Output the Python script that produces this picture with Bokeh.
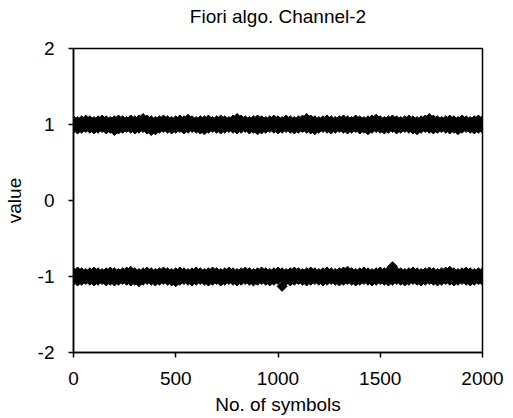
import numpy as np
from bokeh.plotting import figure
from bokeh.models import FixedTicker, Range1d, Title
from bokeh.embed import file_html
from bokeh.resources import INLINE

# symbol index of the plotted samples (every 20th symbol)
symbols = list(range(0, 2001, 20))

# upper band (+1 symbols): upper edge, middle and lower edge of the scatter
top_hi = [1.05, 1.04, 1.05, 1.06, 1.05, 1.04, 1.05, 1.06, 1.05, 1.04,
          1.05, 1.06, 1.05, 1.04, 1.06, 1.05, 1.06, 1.08, 1.06, 1.05,
          1.04, 1.05, 1.06, 1.05, 1.04, 1.05, 1.06, 1.05, 1.07, 1.05,
          1.04, 1.05, 1.05, 1.06, 1.04, 1.05, 1.06, 1.05, 1.04, 1.06,
          1.08, 1.06, 1.05, 1.04, 1.05, 1.06, 1.05, 1.04, 1.05, 1.06,
          1.05, 1.04, 1.06, 1.05, 1.04, 1.05, 1.06, 1.08, 1.06, 1.05,
          1.04, 1.05, 1.06, 1.05, 1.04, 1.05, 1.06, 1.05, 1.04, 1.06,
          1.05, 1.04, 1.05, 1.06, 1.07, 1.05, 1.04, 1.05, 1.06, 1.05,
          1.04, 1.05, 1.06, 1.05, 1.04, 1.05, 1.06, 1.08, 1.06, 1.05,
          1.04, 1.05, 1.06, 1.05, 1.04, 1.06, 1.05, 1.04, 1.05, 1.06,
          1.05]
top_mid = [1.00, 1.01, 0.99, 1.00, 1.02, 0.99, 1.00, 1.01, 0.98, 1.00,
           1.01, 0.99, 1.00, 1.02, 1.00, 0.99, 1.01, 1.00, 0.98, 1.00,
           1.01, 1.00, 0.99, 1.01, 1.00, 1.02, 0.99, 1.00, 1.01, 0.99,
           1.00, 1.01, 0.98, 1.00, 1.01, 0.99, 1.00, 1.02, 1.00, 0.99,
           1.01, 1.00, 0.99, 1.01, 1.00, 0.98, 1.00, 1.01, 0.99, 1.00,
           1.02, 1.00, 0.99, 1.01, 1.00, 0.99, 1.01, 1.00, 0.98, 1.00,
           1.01, 0.99, 1.00, 1.02, 1.00, 0.99, 1.01, 1.00, 0.99, 1.01,
           1.00, 0.98, 1.00, 1.01, 0.99, 1.00, 1.02, 1.00, 0.99, 1.01,
           1.00, 0.99, 1.01, 1.00, 0.98, 1.00, 1.01, 0.99, 1.00, 1.02,
           1.00, 0.99, 1.01, 1.00, 0.99, 1.01, 1.00, 0.98, 1.00, 1.01,
           1.00]
top_lo = [0.95, 0.94, 0.95, 0.96, 0.95, 0.94, 0.95, 0.96, 0.94, 0.95,
          0.92, 0.94, 0.95, 0.96, 0.95, 0.94, 0.95, 0.96, 0.94, 0.92,
          0.93, 0.95, 0.96, 0.95, 0.94, 0.95, 0.96, 0.94, 0.95, 0.96,
          0.95, 0.94, 0.93, 0.95, 0.96, 0.95, 0.94, 0.95, 0.96, 0.95,
          0.94, 0.95, 0.96, 0.94, 0.95, 0.93, 0.94, 0.95, 0.96, 0.95,
          0.94, 0.95, 0.96, 0.95, 0.94, 0.95, 0.96, 0.95, 0.94, 0.93,
          0.95, 0.96, 0.95, 0.94, 0.95, 0.96, 0.95, 0.94, 0.95, 0.96,
          0.94, 0.95, 0.93, 0.95, 0.96, 0.95, 0.94, 0.95, 0.96, 0.94,
          0.95, 0.96, 0.95, 0.94, 0.93, 0.95, 0.96, 0.95, 0.94, 0.95,
          0.96, 0.95, 0.94, 0.95, 0.93, 0.95, 0.96, 0.95, 0.94, 0.95,
          0.95]

# lower band (-1 symbols)
bot_hi = [-0.95, -0.94, -0.95, -0.96, -0.95, -0.94, -0.95, -0.96, -0.95, -0.94,
          -0.95, -0.96, -0.95, -0.94, -0.93, -0.95, -0.96, -0.95, -0.94, -0.95,
          -0.96, -0.95, -0.94, -0.95, -0.96, -0.95, -0.94, -0.95, -0.96, -0.95,
          -0.94, -0.95, -0.96, -0.95, -0.94, -0.95, -0.96, -0.95, -0.94, -0.95,
          -0.96, -0.95, -0.94, -0.95, -0.96, -0.95, -0.94, -0.95, -0.96, -0.95,
          -0.94, -0.95, -0.96, -0.95, -0.94, -0.95, -0.96, -0.95, -0.94, -0.95,
          -0.96, -0.95, -0.94, -0.95, -0.96, -0.95, -0.94, -0.93, -0.95, -0.96,
          -0.95, -0.94, -0.95, -0.96, -0.95, -0.94, -0.95, -0.93, -0.87, -0.94,
          -0.95, -0.96, -0.95, -0.94, -0.95, -0.96, -0.95, -0.94, -0.95, -0.96,
          -0.95, -0.94, -0.93, -0.95, -0.96, -0.95, -0.94, -0.95, -0.96, -0.95,
          -0.95]
bot_mid = [-1.00, -0.99, -1.01, -1.00, -0.98, -1.01, -1.00, -0.99, -1.02, -1.00,
           -0.99, -1.01, -1.00, -0.98, -1.00, -1.01, -0.99, -1.00, -1.02, -1.00,
           -0.99, -1.00, -1.01, -0.99, -1.00, -0.98, -1.01, -1.00, -0.99, -1.01,
           -1.00, -0.99, -1.02, -1.00, -0.99, -1.01, -1.00, -0.98, -1.00, -1.01,
           -0.99, -1.00, -1.01, -0.99, -1.00, -1.02, -1.00, -0.99, -1.01, -1.00,
           -0.98, -1.00, -1.01, -0.99, -1.00, -1.01, -0.99, -1.00, -1.02, -1.00,
           -0.99, -1.01, -1.00, -0.98, -1.00, -1.01, -0.99, -1.00, -1.01, -0.99,
           -1.00, -1.02, -1.00, -0.99, -1.01, -1.00, -0.98, -1.00, -1.01, -0.99,
           -1.00, -1.01, -0.99, -1.00, -1.02, -1.00, -0.99, -1.01, -1.00, -0.98,
           -1.00, -1.01, -0.99, -1.00, -1.01, -0.99, -1.00, -1.02, -1.00, -0.99,
           -1.00]
bot_lo = [-1.05, -1.06, -1.05, -1.04, -1.05, -1.06, -1.05, -1.04, -1.06, -1.05,
          -1.06, -1.05, -1.04, -1.05, -1.06, -1.05, -1.07, -1.05, -1.04, -1.05,
          -1.06, -1.05, -1.04, -1.05, -1.06, -1.07, -1.05, -1.04, -1.05, -1.06,
          -1.05, -1.04, -1.05, -1.06, -1.05, -1.04, -1.06, -1.05, -1.04, -1.05,
          -1.06, -1.05, -1.04, -1.05, -1.06, -1.05, -1.04, -1.05, -1.06, -1.05,
          -1.04, -1.13, -1.05, -1.06, -1.05, -1.04, -1.05, -1.06, -1.05, -1.04,
          -1.05, -1.06, -1.05, -1.04, -1.05, -1.06, -1.05, -1.04, -1.05, -1.06,
          -1.05, -1.04, -1.05, -1.06, -1.05, -1.04, -1.05, -1.06, -1.05, -1.04,
          -1.05, -1.06, -1.05, -1.04, -1.05, -1.06, -1.05, -1.04, -1.05, -1.06,
          -1.05, -1.04, -1.05, -1.06, -1.05, -1.04, -1.05, -1.06, -1.05, -1.04,
          -1.05]

x_ticks = [0, 500, 1000, 1500, 2000]
y_ticks = [-2, -1, 0, 1, 2]
y_tick_labels = ["-2", "-1", "0", "1", "2"]
title_text = "Fiori algo. Channel-2"

FONT = "Liberation Sans"
FS = "19px"

p = figure(width=513, height=418, output_backend="svg", toolbar_location=None,
           x_range=Range1d(0, 2000), y_range=Range1d(-2, 2),
           min_border_left=72, min_border_right=31, min_border_top=48,
           min_border_bottom=66)
# spacer between the title and the frame
p.add_layout(Title(text=" ", text_font_size="18px", standoff=0), "above")
p.add_layout(Title(text=title_text, align="center", text_font=FONT,
                   text_font_size=FS, text_font_style="normal",
                   text_color="black", standoff=0), "above")

p.grid.visible = False
p.outline_line_color = "black"
p.outline_line_width = 1.5
p.background_fill_color = "white"
p.border_fill_color = "white"

for ax in (p.xaxis[0], p.yaxis[0]):
    ax.axis_line_color = "black"
    ax.axis_line_width = 1.5
    ax.major_tick_line_color = "black"
    ax.major_tick_line_width = 1.5
    ax.major_tick_in = 0
    ax.major_tick_out = 5
    ax.minor_tick_line_color = None
    ax.major_label_text_font = FONT
    ax.major_label_text_font_size = FS
    ax.major_label_text_color = "black"
    ax.axis_label_text_font = FONT
    ax.axis_label_text_font_size = FS
    ax.axis_label_text_font_style = "normal"
    ax.axis_label_text_color = "black"

p.xaxis.ticker = FixedTicker(ticks=x_ticks)
p.yaxis.ticker = FixedTicker(ticks=y_ticks)
p.yaxis.major_label_overrides = dict(zip(y_ticks, y_tick_labels))
p.xaxis.axis_label = "No. of symbols"
p.yaxis.axis_label = "value"
p.xaxis.major_label_standoff = 14
p.yaxis.major_label_standoff = 14
p.xaxis.axis_label_standoff = 6
p.yaxis.axis_label_standoff = 10

angle = np.pi / 4
for ys in (top_hi, top_mid, top_lo, bot_hi, bot_mid, bot_lo):
    p.scatter(symbols, ys, marker="square", size=7, angle=angle,
              fill_color="black", line_color="black", line_width=1)

open("out.html", "w").write(file_html(p, INLINE))
